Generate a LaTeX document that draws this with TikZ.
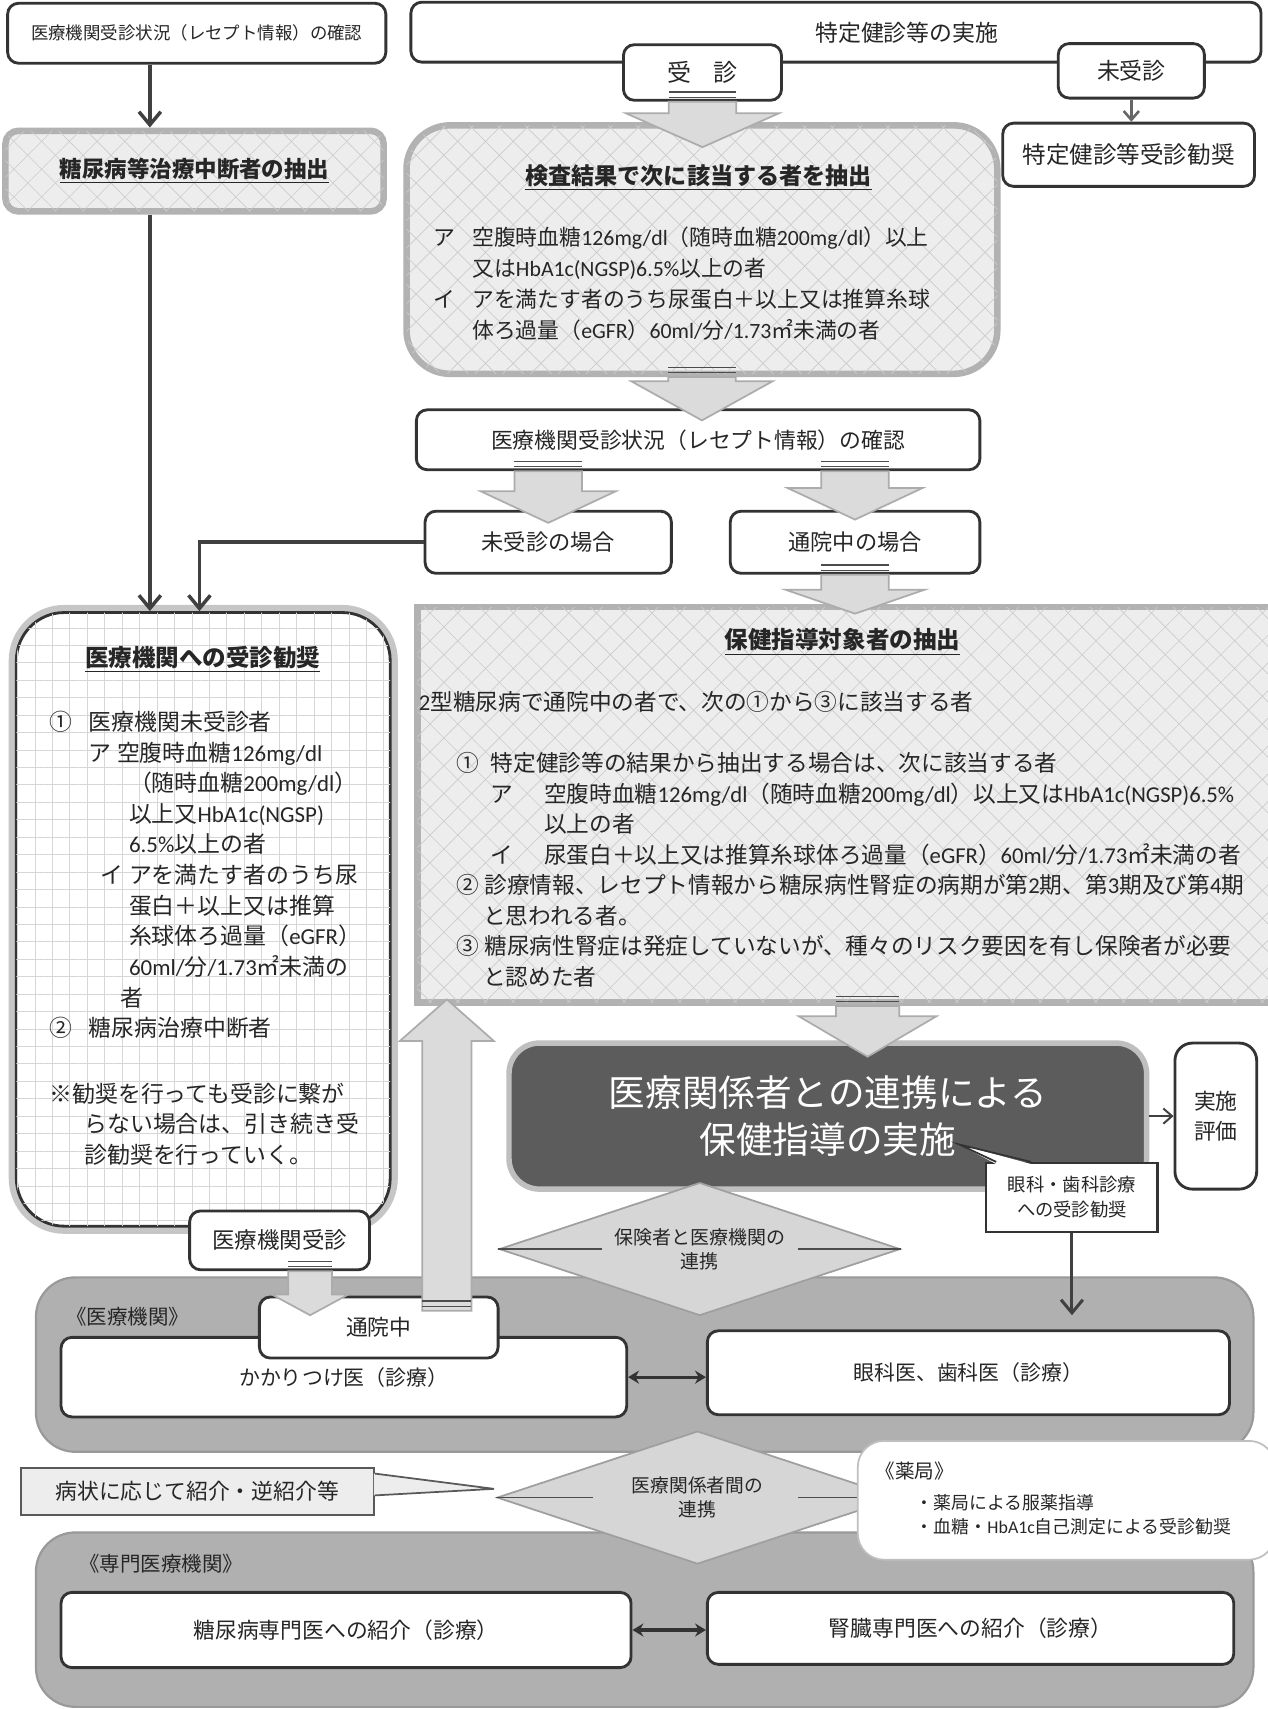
\documentclass[tikz,border=0pt]{standalone}
\usepackage{fontspec}
\setmainfont{Noto Sans CJK JP}
\newfontfamily\latf{Carlito}
\newfontfamily\cjkf{Noto Sans CJK JP}
\XeTeXinterchartokenstate=1
\newXeTeXintercharclass\CJKcls
\count255="3000
\loop\XeTeXcharclass\count255=\CJKcls\ifnum\count255<"9FFF\advance\count255 by 1\repeat
\count255="FF00
\loop\XeTeXcharclass\count255=\CJKcls\ifnum\count255<"FFEF\advance\count255 by 1\repeat
\count255="2460
\loop\XeTeXcharclass\count255=\CJKcls\ifnum\count255<"24FF\advance\count255 by 1\repeat
\XeTeXcharclass"203B=\CJKcls
\XeTeXinterchartoks 0 \CJKcls = {\cjkf}
\XeTeXinterchartoks 4095 \CJKcls = {\cjkf}
\XeTeXinterchartoks \CJKcls 0 = {\latf}
\XeTeXinterchartoks 4095 0 = {\latf}
\usetikzlibrary{arrows.meta,calc,fit,shapes.geometric,patterns.meta}
\newcommand{\fsz}[2]{\fontsize{#1}{#2}\selectfont}
\newcommand{\mkb}[2]{\makebox[#1][l]{#2}}
% box from corners: #1 options, #2 name, #3-#6 x1 y1 x2 y2, #7 text
\newcommand{\cbox}[7]{%
  \pgfmathsetmacro{\cbXc}{(#3+#5)/2}%
  \pgfmathsetmacro{\cbYc}{(#4+#6)/2}%
  \pgfmathsetmacro{\cbW}{(#5-#3)/2}%
  \pgfmathsetmacro{\cbH}{(#6-#4)/2}%
  \node[#1, minimum width=\cbW pt, minimum height=\cbH pt] (#2) at (\cbXc,\cbYc) {#7};%
}
% block arrow pointing down: #1 tail, #2 tip (y only), #3 half shaft, #4 half head, #5 head length
\newcommand{\blkdown}[5]{%
  \filldraw[blk] let \p1=#1, \p2=#2 in
    (\x1-#3,\y1) -- (\x1-#3,\y2+#5) -- (\x1-#4,\y2+#5) -- (\x1,\y2) -- (\x1+#4,\y2+#5) -- (\x1+#3,\y2+#5) -- (\x1+#3,\y1) -- cycle;
  \draw[blktail] let \p1=#1 in (\x1-#3,\y1+2pt) -- (\x1+#3,\y1+2pt) (\x1-#3,\y1+4.5pt) -- (\x1+#3,\y1+4.5pt);
}
\newcommand{\blkup}[5]{%
  \filldraw[blk] let \p1=#1, \p2=#2 in
    (\x1-#3,\y1) -- (\x1-#3,\y2-#5) -- (\x1-#4,\y2-#5) -- (\x1,\y2) -- (\x1+#4,\y2-#5) -- (\x1+#3,\y2-#5) -- (\x1+#3,\y1) -- cycle;
  \draw[blktail] let \p1=#1 in (\x1-#3,\y1+2pt) -- (\x1+#3,\y1+2pt) (\x1-#3,\y1+4.5pt) -- (\x1+#3,\y1+4.5pt);
}
\begin{document}
\begin{tikzpicture}[x=0.5pt,y=-0.5pt,
  every node/.style={text=black!85},
  pbox/.style={draw=black!80, line width=1.3pt, fill=white, rounded corners=5pt, inner sep=0pt, align=center},
  hatchbox/.style={fill=gray!14, postaction={pattern={Hatch[angle=45,distance=9pt,line width=0.3pt]}, pattern color=gray!40}, draw=gray!60, line width=3pt, inner sep=0pt},
  gridbox/.style={preaction={draw=gray!45, line width=7pt}, fill=white, postaction={pattern={Hatch[angle=0,distance=8pt,line width=0.25pt]}, pattern color=gray!32}, draw=black!80, line width=1.3pt, rounded corners=22pt, inner sep=0pt},
  darkbox/.style={fill=black!64, draw=gray!50, line width=2.5pt, rounded corners=14pt, text=white, align=center, inner sep=0pt, font=\fsz{16.8}{21.5}},
  grp/.style={fill=gray!62, draw=gray!80, line width=1pt, rounded corners=18pt, inner sep=0pt},
  diam/.style={diamond, aspect=3, fill=gray!32, draw=gray!75, line width=0.8pt, inner sep=0pt, minimum width=184pt, minimum height=61pt, align=center},
  blk/.style={fill=gray!28, draw=gray!65, line width=0.8pt},
  blktail/.style={draw=black!70, line width=0.6pt},
  arr/.style={draw=black!75, line width=1.6pt, -{Straight Barb[length=6pt,width=10pt]}},
  darr/.style={draw=black!80, line width=1.5pt, {Stealth[length=5pt,width=6pt]}-{Stealth[length=5pt,width=6pt]}},
  body/.style={anchor=north west, inner sep=0pt, align=left}
]
\useasboundingbox (0,0) rectangle (1163,1568);
\fill[white] (0,0) rectangle (1163,1568);

% ---- groups at the bottom
\cbox{grp}{gIryou}{33}{1172}{1150}{1332}{}
\node[font=\fsz{9.4}{11}] (lIryou) at (117,1208) {《医療機関》};
\cbox{grp}{gSenmon}{33}{1406}{1150}{1566}{}
\node[font=\fsz{9.4}{11}] (lSenmon) at (148,1435) {《専門医療機関》};

% ---- top row
\cbox{pbox, font=\fsz{8}{10}}{rec1}{7}{3}{354}{58}{医療機関受診状況（レセプト情報）の確認}
\cbox{hatchbox, rounded corners=6pt, font=\fsz{10.3}{12}\bfseries}{chudan}{5}{120}{352}{194}{\underline{糖尿病等治療中断者の抽出}}
\cbox{pbox}{tokutei}{377}{2}{1157}{57}{}
\node[font=\fsz{10.5}{12}] (tokuteiT) at (832,30) {特定健診等の実施};
\cbox{pbox, font=\fsz{11}{13}}{jushin}{572}{41}{717}{92}{受\hspace{10pt}診}
\cbox{pbox, font=\fsz{10.5}{12}}{mijushin}{971}{40}{1105}{90}{未受診}
\cbox{pbox, font=\fsz{10.8}{12}}{kanshou}{920}{113}{1151}{171}{特定健診等受診勧奨}

% ---- kensa box
\cbox{hatchbox, rounded corners=20pt}{kensa}{373}{115}{915}{343}{}
\node[font=\fsz{10.6}{12}\bfseries] (kensaT) at (641,163) {\underline{検査結果で次に該当する者を抽出}};
\node[body, font=\fsz{10}{14.25}] (kensaB) at (397,208) {%
\mkb{18pt}{ア}空腹時血糖126mg/dl（随時血糖200mg/dl）以上\\
\hspace*{18pt}又はHbA1c(NGSP)6.5\%以上の者\\
\mkb{18pt}{イ}アを満たす者のうち尿蛋白＋以上又は推算糸球\\
\hspace*{18pt}体ろ過量（eGFR）60ml/分/1.73㎡未満の者};

\cbox{pbox, font=\fsz{10}{12}}{kakunin2}{382}{376}{899}{431}{医療機関受診状況（レセプト情報）の確認}
\cbox{pbox, font=\fsz{10.2}{12}}{mijushin2}{390}{469}{616}{526}{未受診の場合}
\cbox{pbox, font=\fsz{10.2}{12}}{tsuin2}{670}{469}{899}{526}{通院中の場合}

% ---- left big box
\cbox{gridbox}{kanshou2}{15}{562}{358}{1125}{}
\node[font=\fsz{10.8}{12}\bfseries] (kanshou2T) at (186,605) {\underline{医療機関への受診勧奨}};
\node[body, font=\fsz{10.5}{14.05}] (kanshou2B) at (45,652) {%
\mkb{18pt}{①}医療機関未受診者\\
\hspace*{18pt}\mkb{13pt}{ア}空腹時血糖126mg/dl\\
\hspace*{36.5pt}（随時血糖200mg/dl）\\
\hspace*{36.5pt}以上又HbA1c(NGSP)\\
\hspace*{36.5pt}6.5\%以上の者\\
\hspace*{23.5pt}\mkb{13pt}{イ}アを満たす者のうち尿\\
\hspace*{36.5pt}蛋白＋以上又は推算\\
\hspace*{36.5pt}糸球体ろ過量（eGFR）\\
\hspace*{36.5pt}60ml/分/1.73㎡未満の\\
\hspace*{32.5pt}者\\
\mkb{18pt}{②}糖尿病治療中断者\\[16pt]
※勧奨を行っても受診に繋が\\
\hspace*{16pt}らない場合は、引き続き受\\
\hspace*{16pt}診勧奨を行っていく。};

% ---- hoken box
\cbox{hatchbox}{hoken}{383}{557}{1170}{920}{}
\node[font=\fsz{10.8}{12}\bfseries] (hokenT) at (773,589) {\underline{保健指導対象者の抽出}};
\node[body, font=\fsz{10.4}{14}] (hokenB) at (384,634) {%
2型糖尿病で通院中の者で、次の①から③に該当する者\\[14pt]
\hspace*{17pt}\mkb{16pt}{①}特定健診等の結果から抽出する場合は、次に該当する者\\
\hspace*{33pt}\mkb{24.5pt}{ア}空腹時血糖126mg/dl（随時血糖200mg/dl）以上又はHbA1c(NGSP)6.5\%\\
\hspace*{57.5pt}以上の者\\
\hspace*{33pt}\mkb{24.5pt}{イ}尿蛋白＋以上又は推算糸球体ろ過量（eGFR）60ml/分/1.73㎡未満の者\\
\hspace*{17pt}\mkb{13pt}{②}診療情報、レセプト情報から糖尿病性腎症の病期が第2期、第3期及び第4期\\
\hspace*{29.5pt}と思われる者。\\
\hspace*{17pt}\mkb{13pt}{③}糖尿病性腎症は発症していないが、種々のリスク要因を有し保険者が必要\\
\hspace*{29.5pt}と認めた者};

% ---- dark box and evaluation
\cbox{darkbox}{dark}{467}{957}{1052}{1091}{医療関係者との連携による\\保健指導の実施}
\cbox{pbox, rounded corners=8pt, font=\fsz{10}{13.5}}{hyouka}{1078}{957}{1153}{1091}{実施\\評価}

% ---- bottom boxes
\cbox{pbox, font=\fsz{9.6}{12}}{kakari}{56}{1227}{575}{1300}{かかりつけ医（診療）}
\cbox{pbox, font=\fsz{9.6}{12}}{ganka2}{649}{1221}{1128}{1298}{眼科医、歯科医（診療）}
\cbox{pbox, font=\fsz{10}{12}}{tsuin3}{238}{1190}{457}{1246}{通院中}
\cbox{pbox, font=\fsz{10}{12}}{tounyou}{56}{1461}{579}{1530}{糖尿病専門医への紹介（診療）}
\cbox{pbox, font=\fsz{10}{12}}{jinzou}{649}{1461}{1132}{1527}{腎臓専門医への紹介（診療）}
\cbox{pbox, font=\fsz{10.3}{12}}{jushin3}{174}{1111}{339}{1165}{医療機関受診}

% ---- diamonds
\node[diam, font=\fsz{8.7}{11}] (d1) at (642,1146) {保険者と医療機関の\\連携};
\draw[black!70, line width=0.8pt] (d1.west) -- ++(95,0) (d1.east) -- ++(-95,0);
\node[diam, font=\fsz{8.6}{11}] (d2) at (640,1374) {医療関係者間の\\連携};
\draw[black!70, line width=0.8pt] (d2.west) -- ++(89,0) (d2.east) -- ++(-93,0);

% ---- callout boxes
\cbox{draw=black!65, line width=1pt, fill=gray!14, inner sep=0pt, font=\fsz{10}{12}}{byoujou}{19}{1347}{343}{1390}{病状に応じて紹介・逆紹介等}
\coordinate (btip) at ($(d2.west)+(-2,-8)$);
\fill[gray!14] ($(byoujou.north east)+(-1,6)$) -- (btip) -- ($(byoujou.north east)+(-1,26)$) -- cycle;
\draw[black!65, line width=0.8pt] ($(byoujou.north east)+(0,6)$) -- (btip) -- ($(byoujou.north east)+(0,26)$);

\cbox{fill=white, draw=gray!50, line width=0.8pt, rounded corners=12pt, inner sep=0pt}{yakkyoku}{787}{1322}{1170}{1431}{}
\node[body, font=\fsz{8.2}{11}] (yakkyokuB) at (803,1341) {{\fsz{9}{11}《薬局》}\\[3pt]\hspace*{18.5pt}・薬局による服薬指導\\\hspace*{18.5pt}・血糖・HbA1c自己測定による受診勧奨};

\cbox{pbox, rounded corners=0pt, line width=1pt, font=\fsz{8.4}{11.5}}{ganka}{905}{1067}{1062}{1130}{眼科・歯科診療\\への受診勧奨}
\coordinate (gtip) at (880,1050);
\fill[white] ($(ganka.north west)+(10,2)$) -- (gtip) -- ($(ganka.north west)+(42,2)$) -- cycle;
\draw[black!80, line width=0.8pt] ($(ganka.north west)+(10,0)$) -- (gtip) -- ($(ganka.north west)+(42,0)$);

% ---- line arrows
\draw[arr] ([xshift=-21.5pt]rec1.south) -- ([xshift=-21.5pt]rec1.south |- chudan.north);
\draw[arr] ([xshift=-20.5pt]chudan.south) -- ([xshift=-20.5pt]chudan.south |- kanshou2.north);
\draw[arr] (mijushin2.west) -| ([xshift=-1.75pt]kanshou2.north);
\draw[draw=black!60, line width=1.2pt, -{Straight Barb[length=4pt,width=7pt]}] (mijushin.south) -- (mijushin.south |- kanshou.north);
\draw[draw=black!75, line width=0.9pt, -{Straight Barb[length=4pt,width=7pt]}] (dark.east) -- (hyouka.west |- dark.east);
\draw[arr, line width=1.4pt] (ganka.south) -- ($(ganka.south |- ganka2.north)+(0,-13)$);
\draw[darr] (kakari.east) -- (ganka2.west |- kakari.east);
\draw[darr] (tounyou.east) -- (jinzou.west |- tounyou.east);

% ---- block arrows
\blkdown{(jushin.south)}{($(kensa.north)+(0,23)$)}{15.5pt}{35pt}{15.5pt}
\blkdown{(kensa.south)}{($(kakunin2.north)+(0,11)$)}{15.5pt}{32.5pt}{18pt}
\blkdown{(mijushin2.north |- kakunin2.south)}{($(mijushin2.north)+(0,12)$)}{15.5pt}{31pt}{14.5pt}
\blkdown{(tsuin2.north |- kakunin2.south)}{($(tsuin2.north)+(0,9)$)}{15.5pt}{31pt}{14.5pt}
\blkdown{(tsuin2.south)}{($(hoken.north)+(0,9)$)}{15.5pt}{32pt}{11pt}
\blkdown{([xshift=9.75pt]hoken.south)}{($(dark.north)+(0,15)$)}{14.5pt}{31.5pt}{18.5pt}
\blkdown{([xshift=14pt]jushin3.south)}{($(tsuin3.north)+(0,18)$)}{10pt}{17.5pt}{9.5pt}
\blkup{($([xshift=31.25pt]tsuin3.north)+(0,14)$)}{($(hoken.south)+(0,-6)$)}{11.25pt}{21.5pt}{19pt}
\end{tikzpicture}
\end{document}
